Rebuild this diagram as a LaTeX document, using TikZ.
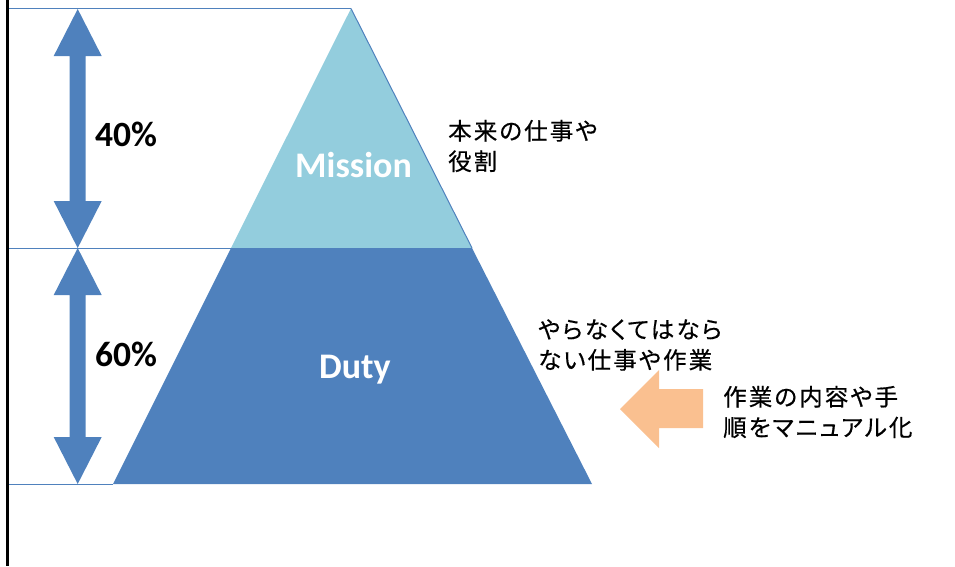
\documentclass[tikz,border=0pt]{standalone}
\usepackage{fontspec}
\setmainfont{Carlito}
\newfontfamily\jpfont[RawFeature=+palt,LetterSpace=9,FakeBold=0.5]{Noto Sans CJK JP}
\definecolor{darkblue}{HTML}{4F81BD}
\definecolor{lightblue}{HTML}{93CDDD}
\definecolor{peach}{HTML}{FAC090}
\begin{document}
\begin{tikzpicture}[x=1pt,y=-1pt,
  guide/.style={draw=darkblue,line width=1pt},
  pct/.style={font=\fontsize{35.5}{40}\selectfont\bfseries,text=black},
  layer/.style={font=\fontsize{36}{40}\selectfont\bfseries,text=white},
  note/.style={font=\jpfont\fontsize{23.5}{30.5}\selectfont,align=left,anchor=west,inner sep=0pt}]
\useasboundingbox (0,0) rectangle (955,566);
% pyramid
\coordinate (apex) at (351,8.5);
\coordinate (ml) at (231,248);
\coordinate (mr) at (472,248);
\coordinate (bl) at (113,484);
\coordinate (br) at (592,484);
\fill[lightblue] (apex) -- (mr) -- (ml) -- cycle;
\fill[darkblue] (ml) -- (mr) -- (br) -- (bl) -- cycle;
\draw[darkblue,line width=1pt] (apex) -- (mr);
% guide lines
\coordinate (t0) at (8,8.5);
\coordinate (m0) at (8,248);
\coordinate (b0) at (8,484);
\draw[guide] (t0) -- (apex);
\draw[guide] (m0) -- (ml);
\draw[guide] (b0) -- (bl);
\draw[black,line width=3pt] (7,0) -- (7,566);
% double arrows
\fill[darkblue] (77.7,9) -- (101.7,56) -- (85.7,56) -- (85.7,201) -- (101.7,201) -- (77.7,248)
  -- (53.7,201) -- (69.7,201) -- (69.7,56) -- (53.7,56) -- cycle;
\fill[darkblue] (77.7,248) -- (101.7,295) -- (85.7,295) -- (85.7,437) -- (101.7,437) -- (77.7,484)
  -- (53.7,437) -- (69.7,437) -- (69.7,295) -- (53.7,295) -- cycle;
% orange arrow
\fill[peach] (620,409) -- (659,370) -- (659,389) -- (703,389) -- (703,428) -- (659,428) -- (659,448) -- cycle;
% labels
\node[pct] (p40) at (126,134) {40\%};
\node[pct] (p60) at (126,354) {60\%};
\node[layer] (mission) at (353.5,165) {Mission};
\node[layer] (duty) at (355,370) {Duty};
\node[note] (n1) at (448,146) {本来の仕事や\\役割};
\node[note] (n2) at (538,345) {やらなくてはなら\\ない仕事や作業};
\node[note] (n3) at (723,412) {作業の内容や手\\順をマニュアル化};
\end{tikzpicture}
\end{document}
